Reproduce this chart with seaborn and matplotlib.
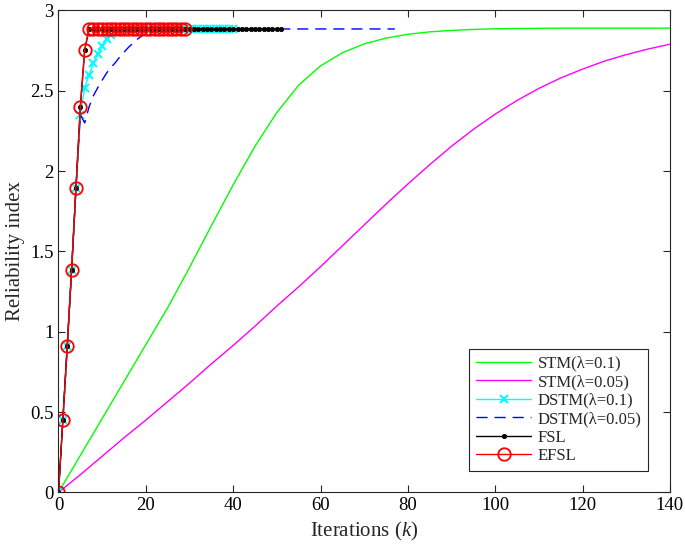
import matplotlib
matplotlib.use("Agg")
import matplotlib.pyplot as plt
from matplotlib.ticker import FuncFormatter
import seaborn as sns

# STM curves, sampled every 5 iterations
stm_k = [0, 5, 10, 15, 20, 25, 30, 35, 40, 45, 50, 55, 60, 65, 70,
         75, 80, 85, 90, 95, 100, 105, 110, 115, 120, 125, 130, 135, 140]
stm_01 = [0, 0.23, 0.46, 0.69, 0.92, 1.15, 1.40, 1.66, 1.915, 2.155, 2.365,
          2.535, 2.655, 2.737, 2.792, 2.828, 2.852, 2.867, 2.876, 2.882, 2.886,
          2.888, 2.889, 2.89, 2.89, 2.89, 2.89, 2.89, 2.89]
stm_005 = [0, 0.11, 0.225, 0.34, 0.45, 0.565, 0.68, 0.80, 0.915, 1.035,
           1.16, 1.28, 1.405, 1.535, 1.665, 1.795, 1.92, 2.04, 2.155, 2.26,
           2.355, 2.44, 2.515, 2.58, 2.635, 2.685, 2.725, 2.76, 2.79]

# DSTM(0.1), one point per iteration, k = 0..40
dstm_01 = [0, 0.45, 0.91, 1.385, 1.895, 2.35, 2.52, 2.60, 2.67, 2.73,
           2.78, 2.82, 2.845, 2.865, 2.875, 2.88] + [2.885] * 25

# DSTM(0.05), k = 0..77
dstm_005 = [0, 0.45, 0.91, 1.385, 1.895, 2.35, 2.30, 2.40, 2.47, 2.52,
            2.566, 2.61, 2.645, 2.675, 2.71, 2.74, 2.77, 2.795, 2.82, 2.84,
            2.853, 2.865, 2.873, 2.878, 2.882] + [2.885] * 53

# FSL, k = 0..51 ; EFSL, k = 0..29
fsl = [0, 0.45, 0.91, 1.385, 1.895, 2.40, 2.755] + [2.885] * 45
efsl = [0, 0.45, 0.91, 1.385, 1.895, 2.40, 2.755] + [2.885] * 23

x_ticks = [0, 20, 40, 60, 80, 100, 120, 140]
y_ticks = [0, 0.5, 1, 1.5, 2, 2.5, 3]

sns.set_theme(style="ticks")
plt.rcParams["font.family"] = ["Liberation Serif", "DejaVu Serif"]
plt.rcParams["mathtext.fontset"] = "custom"
plt.rcParams["mathtext.rm"] = "Liberation Serif"
plt.rcParams["mathtext.it"] = "Liberation Serif:italic"

fig = plt.figure(figsize=(6.85, 5.52), dpi=100)
ax = fig.add_axes([0.0854, 0.108, 0.8926, 0.873])

sns.lineplot(x=stm_k, y=stm_01, color=(0, 1, 0), lw=1, ax=ax,
             label="STM(λ=0.1)", sort=False)
sns.lineplot(x=stm_k, y=stm_005, color=(1, 0, 1), lw=1, ax=ax,
             label="STM(λ=0.05)", sort=False)
sns.lineplot(x=list(range(len(dstm_01))), y=dstm_01, color=(0, 1, 1), lw=1,
             marker="x", markersize=6, markeredgewidth=1.5,
             markeredgecolor=(0, 1, 1), ax=ax,
             label="DSTM(λ=0.1)", sort=False)
sns.lineplot(x=list(range(len(dstm_005))), y=dstm_005, color=(0, 0, 1), lw=1,
             linestyle=(0, (8, 5)), ax=ax, label="DSTM(λ=0.05)", sort=False)
sns.lineplot(x=list(range(len(fsl))), y=fsl, color="black", lw=1,
             marker="o", markersize=3.2, markeredgewidth=0.5,
             markeredgecolor="black", markerfacecolor="black", ax=ax,
             label="FSL", sort=False)
sns.lineplot(x=list(range(len(efsl))), y=efsl, color="red", lw=1,
             marker="o", markersize=9, markerfacecolor="none",
             markeredgecolor="red", markeredgewidth=1.3, ax=ax,
             label="EFSL", sort=False)

ax.set_xlim(0, 140)
ax.set_ylim(0, 3)
ax.set_xticks(x_ticks)
ax.set_yticks(y_ticks)
ax.yaxis.set_major_formatter(FuncFormatter(lambda v, p: f"{v:g}"))
ax.tick_params(direction="in", length=5, width=0.8, labelsize=13.5,
               top=True, right=True, colors="#262626", labelcolor="black")
for s in ax.spines.values():
    s.set_visible(True)
    s.set_color("#262626")
    s.set_linewidth(0.8)
ax.set_xlabel("Iterations ($k$)", fontsize=15, labelpad=4)
ax.set_ylabel("Reliability index", fontsize=15, labelpad=4)

leg = ax.legend(loc="lower right", fontsize=12, frameon=True, fancybox=False,
                edgecolor="#262626", framealpha=1, handlelength=3.3,
                borderaxespad=1.3, labelspacing=0.15, borderpad=0.4,
                handletextpad=0.4)
leg.get_frame().set_linewidth(0.8)

fig.savefig("out.png", dpi=100)
